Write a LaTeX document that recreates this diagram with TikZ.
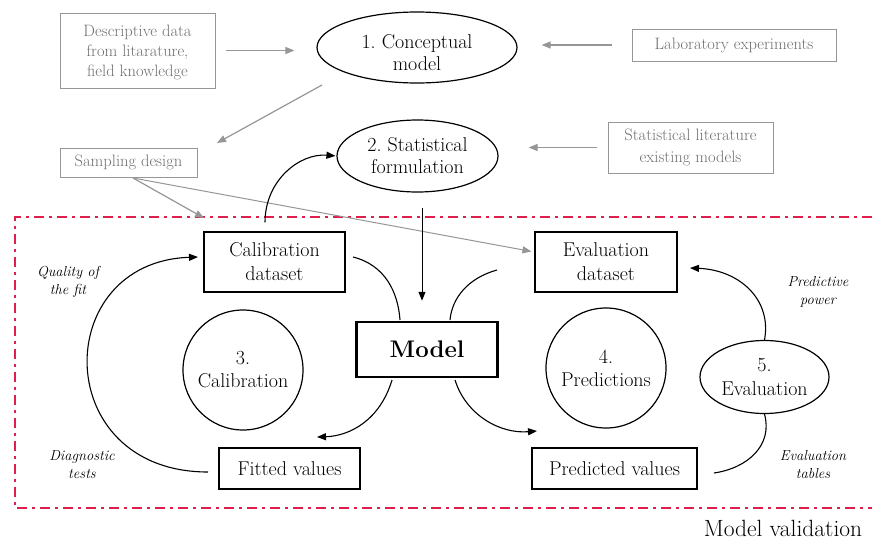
\documentclass[tikz,border=0pt]{standalone}
\usepackage{fontspec}
\usetikzlibrary{arrows.meta,shapes.geometric}
\definecolor{gline}{RGB}{150,150,150}
\definecolor{gtext}{RGB}{110,110,110}
\definecolor{redv}{RGB}{222,30,75}
\begin{document}
\begin{tikzpicture}[x=1pt,y=-1pt,
  graybox/.style={draw=gline, line width=1pt, text=gtext, align=center, font=\fontsize{16.5}{20}\selectfont, inner sep=0pt},
  mainbox/.style={draw, line width=1.2pt, align=center, font=\fontsize{20}{24}\selectfont, inner sep=0pt},
  oval/.style={ellipse, draw, line width=1.2pt, align=center, font=\fontsize{20}{22}\selectfont, inner sep=0pt},
  txt/.style={align=center, font=\fontsize{20}{22}\selectfont, inner sep=0pt},
  roundn/.style={circle, draw, line width=1.2pt, align=center, font=\fontsize{20}{23}\selectfont, inner sep=0pt, minimum size=120pt},
  garrow/.style={draw=gline, line width=1.2pt, -{Triangle[length=9pt,width=7pt]}},
  barrow/.style={draw, line width=1.1pt, -{Triangle[length=9pt,width=7pt]}},
  bline/.style={draw, line width=1.1pt},
  lab/.style={font=\fontsize{14.5}{18}\selectfont\itshape, align=center},
]
\useasboundingbox (0,0) rectangle (872,541);

% validation frame
\draw[redv, line width=2.5pt, dash pattern=on 10pt off 5pt on 3pt off 5pt]
  (872,217) -- (15,217) -- (15,508) -- (872,508);

% top gray boxes
\node[graybox, minimum width=155pt, minimum height=75pt] (desc) at (137.5,50.5) {};
\node[graybox, draw=none] (desct) at ([yshift=-2pt]desc.center)
  {Descriptive data\\from litarature,\\field knowledge};
\node[graybox, minimum width=204pt, minimum height=32pt] (lab) at (734,45)
  {Laboratory experiments};
\node[graybox, minimum width=137pt, minimum height=29pt] (samp) at (128.5,162.5)
  {Sampling design};
\node[graybox, minimum width=165pt, minimum height=51pt, font=\fontsize{16.5}{22}\selectfont] (statlit) at (690.5,147.5)
  {Statistical literature\\existing models};

% ellipses
\node[oval, minimum width=200pt, minimum height=71pt] (concept) at (417,47.5) {};
\node[txt] (conceptt) at ([yshift=-5pt]concept.center) {1.~Conceptual\\model};
\node[oval, minimum width=161pt, minimum height=72pt] (stat) at (417.5,156)
  {2.~Statistical\\formulation};

% boxes
\node[mainbox, minimum width=141pt, minimum height=60pt] (calib) at (274.5,262)
  {Calibration\\dataset};
\node[mainbox, minimum width=141pt, minimum height=41pt] (fitted) at (289.5,468.5)
  {Fitted values};
\node[draw, line width=2.5pt, minimum width=141pt, minimum height=55pt, inner sep=0pt,
  font=\fontsize{24}{30}\selectfont\bfseries] (model) at (427,349.5) {Model};
\node[mainbox, minimum width=142pt, minimum height=60pt] (evald) at (606,262)
  {Evaluation\\dataset};
\node[mainbox, minimum width=165pt, minimum height=41pt] (pred) at (614.5,468.5)
  {Predicted values};

% circles
\node[roundn] (c3) at (243,370) {3.\\Calibration};
\node[roundn] (c4) at (606,368) {4.\\Predictions};
\node[oval, minimum width=129pt, minimum height=73pt, font=\fontsize{20}{24}\selectfont] (e5) at (764.5,377) {5.\\Evaluation};

% labels
\node[lab] (qf) at (68,282) {Quality of\\the fit};
\node[lab] (dt) at (82,465) {Diagnostic\\tests};
\node[lab] (pp) at (818,292) {Predictive\\power};
\node[lab] (et) at (813,465) {Evaluation\\tables};
\node[font=\fontsize{23.5}{28}\selectfont] (mv) at (783,528) {Model validation};

% gray connectors
\draw[garrow, shorten <=10pt, shorten >=22pt] (desc.east) -- (desc.east -| concept.west);
\draw[garrow, shorten <=20pt, shorten >=24pt] (lab.west) -- (lab.west -| concept.east);
\draw[garrow, shorten <=11pt, shorten >=30pt] (statlit.west) -- (statlit.west -| stat.east);
\coordinate (g1) at (322,85);
\coordinate (g2) at (217,143);
\draw[garrow] (g1) -- (g2);
\coordinate (sd) at (133,178);
\coordinate (ca) at (204,218);
\draw[garrow] (sd) -- (ca);
\draw[garrow, line width=1pt, shorten >=3pt] (sd) -- ([yshift=10pt]evald.west);

% black connectors
\draw[barrow, line width=1pt, shorten <=15pt, shorten >=20pt] ([xshift=4.5pt]stat.south) -- ([xshift=-5pt]model.north);
\draw[barrow, shorten <=9pt, shorten >=1pt] ([xshift=-9.5pt]calib.north) .. controls (265,180) and (300,153) .. (stat.west);

\coordinate (m1) at (353,257);
\coordinate (m1e) at (400,320);
\draw[bline] (m1) .. controls (385,265) and (398,292) .. (m1e);
\coordinate (m2) at (497,270);
\coordinate (m2e) at (450,320);
\draw[bline] (m2) .. controls (468,278) and (452,298) .. (m2e);
\coordinate (m3) at (392,380);
\coordinate (m3e) at (317,437);
\draw[barrow] (m3) .. controls (380,420) and (350,436) .. (m3e);
\coordinate (m4) at (455,380);
\coordinate (m4e) at (537,431);
\draw[barrow] (m4) .. controls (466,415) and (500,434) .. (m4e);

\coordinate (f1) at (208,472);
\coordinate (f1e) at (198,257);
\draw[barrow] (f1) .. controls (50,472) and (50,262) .. (f1e);

\coordinate (p1) at (714,473);
\draw[bline] (p1) .. controls (748,468) and (773,445) .. (e5.south);
\coordinate (ev1) at (690,268);
\draw[barrow] (e5.north) .. controls (772,300) and (740,270) .. (ev1);
\end{tikzpicture}
\end{document}
